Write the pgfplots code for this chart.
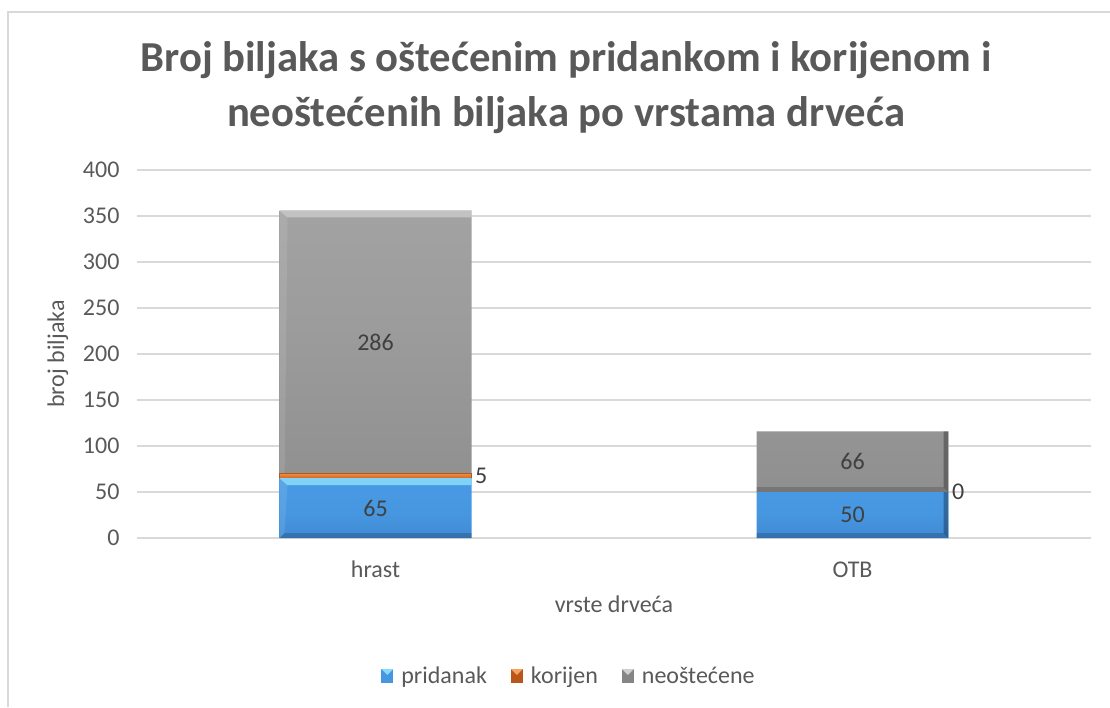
\documentclass[border=0pt]{standalone}
\usepackage{pgfplots}
\pgfplotsset{compat=1.18}
\usepackage{fontspec}
\setmainfont{Carlito}
\definecolor{txt}{HTML}{595959}
\definecolor{lbl}{HTML}{404040}
\definecolor{grd}{HTML}{D9D9D9}
\definecolor{bA}{HTML}{3A7CC4}
\definecolor{bB}{HTML}{4696E0}
\definecolor{bC}{HTML}{4C9EE9}
\definecolor{bD}{HTML}{86DAFA}
\definecolor{oA}{HTML}{B9561A}
\definecolor{oB}{HTML}{E2782C}
\definecolor{oC}{HTML}{F5A35E}
\definecolor{gA}{HTML}{858585}
\definecolor{gB}{HTML}{9C9C9C}
\definecolor{gC}{HTML}{AAAAAA}
\definecolor{gD}{HTML}{CFCFCF}
\pgfdeclareverticalshading{blueBar}{100bp}{color(0bp)=(bA); color(45bp)=(bB); color(100bp)=(bC)}
\pgfdeclareverticalshading{orBar}{100bp}{color(0bp)=(oA); color(50bp)=(oB); color(100bp)=(oC)}
\pgfdeclareverticalshading{grBar}{100bp}{color(0bp)=(gA); color(55bp)=(gB); color(100bp)=(gC)}
\newcommand\PA[1]{\pgfpointanchor{path picture bounding box}{#1}}
\newcommand\PS[3]{\pgfpointadd{\pgfpointanchor{path picture bounding box}{#1}}{\pgfpoint{#2}{#3}}}
\newcommand\bevelpic[2]{%
  \begin{pgfscope}
  \pgfsetfillcolor{#1}\pgfsetfillopacity{#2}%
  \pgfpathmoveto{\PA{north west}}\pgfpathlineto{\PA{north east}}%
  \pgfpathlineto{\PS{north east}{-8pt}{-7pt}}\pgfpathlineto{\PS{north west}{8pt}{-7pt}}%
  \pgfpathclose\pgfusepath{fill}%
  \end{pgfscope}
  \begin{pgfscope}
  \pgfsetfillcolor{black}\pgfsetfillopacity{0.30}%
  \pgfpathmoveto{\PA{north east}}\pgfpathlineto{\PA{south east}}%
  \pgfpathlineto{\PS{south east}{-5pt}{5pt}}\pgfpathlineto{\PS{north east}{-5pt}{-7pt}}%
  \pgfpathclose\pgfusepath{fill}%
  \end{pgfscope}
  \begin{pgfscope}
  \pgfsetfillcolor{black}\pgfsetfillopacity{0.18}%
  \pgfpathmoveto{\PA{south west}}\pgfpathlineto{\PA{south east}}%
  \pgfpathlineto{\PS{south east}{-5pt}{5pt}}\pgfpathlineto{\PS{south west}{5pt}{5pt}}%
  \pgfpathclose\pgfusepath{fill}%
  \end{pgfscope}
  \begin{pgfscope}
  \pgfsetfillcolor{white}\pgfsetfillopacity{0.10}%
  \pgfpathmoveto{\PA{north west}}\pgfpathlineto{\PA{south west}}%
  \pgfpathlineto{\PS{south west}{5pt}{5pt}}\pgfpathlineto{\PS{north west}{8pt}{-7pt}}%
  \pgfpathclose\pgfusepath{fill}%
  \end{pgfscope}}
% legend square drawn on the basic layer (no inherited path picture)
\newcommand\legsq[2]{%
  \begin{pgfscope}
  \pgfsetfillcolor{#1}%
  \pgfpathrectangle{\pgfpoint{0pt}{-7pt}}{\pgfpoint{12pt}{14pt}}\pgfusepath{fill}%
  \pgfsetfillcolor{#2}%
  \pgfpathmoveto{\pgfpoint{0pt}{7pt}}\pgfpathlineto{\pgfpoint{12pt}{7pt}}\pgfpathlineto{\pgfpoint{6pt}{1pt}}%
  \pgfpathclose\pgfusepath{fill}%
  \end{pgfscope}}
\begin{document}
\begin{tikzpicture}
\path[use as bounding box] (0pt,0pt) rectangle (1110pt,-707pt);
\draw[grd, line width=1.3pt] (8pt,-707pt) -- (8pt,-12pt) -- (1110pt,-12pt);
\node[anchor=base, text=txt, font=\fontsize{42.7}{50}\selectfont\bfseries] at (566pt,-71pt) {Broj biljaka s oštećenim pridankom i korijenom i};
\node[anchor=base, text=txt, font=\fontsize{42.7}{50}\selectfont\bfseries] at (566pt,-126pt) {neoštećenih biljaka po vrstama drveća};
\begin{axis}[
  at={(137pt,-538pt)}, anchor=south west,
  scale only axis, width=954pt, height=368pt,
  xmin=-0.5, xmax=1.5, ymin=0, ymax=400,
  ybar stacked, bar width=0.4025,
  xtick={0,1}, xticklabels={hrast,OTB},
  ytick={0,50,...,400},
  ymajorgrids, grid style={grd, line width=1.3pt},
  axis line style={draw=none},
  major tick length=0pt,
  tick label style={font=\fontsize{24}{29}\selectfont, text=txt},
  /pgf/number format/assume math mode=true,
  yticklabel style={xshift=-14pt},
  xticklabel style={anchor=base, yshift=-39pt},
  xlabel={vrste drveća}, ylabel={broj biljaka},
  label style={font=\fontsize{24}{29}\selectfont, text=txt},
  xlabel style={at={(axis description cs:0.5,-0.2011)}, anchor=base},
  ylabel style={at={(axis description cs:-0.0765,0.5)}, anchor=base},
  legend columns=3,
  legend style={at={(axis description cs:0.4528,-0.375)}, anchor=center, draw=none, fill=none,
    font=\fontsize{24}{29}\selectfont, text=txt,
    /tikz/every odd column/.append style={column sep=6pt},
    /tikz/every even column/.append style={column sep=22pt}},
]
\addplot[shade, shading=blueBar, draw=none, path picture={\bevelpic{bD}{0.9}},
  legend image code/.code={\legsq{bB}{bD}}]
  coordinates {(0,65) (1,50)};
\addlegendentry{pridanak}
\addplot[shade, shading=orBar, draw=oA, line width=0.6pt,
  legend image code/.code={\legsq{oA}{oC}}]
  coordinates {(0,5) (1,0)};
\addlegendentry{korijen}
\addplot[shade, shading=grBar, draw=none, path picture={\bevelpic{white}{0.35}},
  legend image code/.code={\legsq{gA}{gD}}]
  coordinates {(0,286) (1,66)};
\addlegendentry{neoštećene}
\end{axis}
\begin{axis}[
  at={(137pt,-538pt)}, anchor=south west,
  scale only axis, width=954pt, height=368pt,
  xmin=-0.5, xmax=1.5, ymin=0, ymax=400,
  hide axis,
]
\addplot[draw=none, nodes near coords, point meta=explicit symbolic,
  nodes near coords style={anchor=center, font=\fontsize{24}{29}\selectfont, text=lbl}]
  coordinates {(0,32.5)[65] (0,213)[286] (1,25)[50] (1,83)[66]};
\addplot[draw=none, nodes near coords, point meta=explicit symbolic,
  nodes near coords style={anchor=west, font=\fontsize{24}{29}\selectfont, text=lbl}]
  coordinates {(0.2012,67.5)[5] (1.2012,50)[0]};
\end{axis}
\end{tikzpicture}
\end{document}
